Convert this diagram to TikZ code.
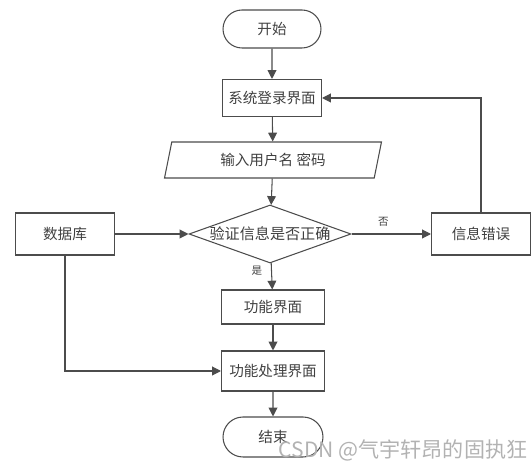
\documentclass[tikz,border=0pt]{standalone}
\usepackage{fontspec}
\setmainfont{Noto Sans CJK SC}
\usepackage{tikz}
\usetikzlibrary{arrows.meta}
\usetikzlibrary{shapes.geometric,shapes.misc}
\tikzset{
  every node/.style={font=\fontsize{8.3}{10}\selectfont, text=black!75},
  frame/.style={draw=black!70, line width=0.6pt, inner sep=0pt},
  procbox/.style={frame, rectangle, minimum width=1.98cm, minimum height=0.74cm},
  termbox/.style={frame, rounded rectangle, minimum width=1.96cm, minimum height=0.76cm},
  iobox/.style={frame, trapezium, trapezium left angle=62, trapezium right angle=118,
    trapezium stretches body, minimum width=4.34cm, minimum height=0.72cm},
  decision/.style={frame, diamond, aspect=2.8, minimum width=3.24cm, minimum height=1.16cm,
    font=\fontsize{8.6}{10}\selectfont},
  flow/.style={draw=black!70, line width=0.6pt, -{Triangle[length=5pt,width=5pt]}},
  tag/.style={font=\fontsize{6}{7}\selectfont, inner sep=1pt}
}

\begin{document}
\begin{tikzpicture}[x=0.02cm, y=-0.02cm]
    \useasboundingbox (0,0) rectangle (531,469);

                \node[termbox] (start) at (272,29) {开始};
                \node[procbox] (login) at (272,98) {系统登录界面};
                \node[iobox] (input) at (273,160) {输入用户名 密码};
                \node[decision] (check) at (270,234) {验证信息是否正确};
                \node[procbox, minimum height=0.84cm] (db) at (65,234) {数据库};
                \node[procbox, minimum height=0.84cm] (err) at (481,234) {信息错误};
                \node[procbox, minimum width=2.06cm, minimum height=0.68cm] (func) at (273,307) {功能界面};
                \node[procbox, minimum width=2.06cm, minimum height=0.8cm] (proc) at (273,371) {功能处理界面};
                \node[termbox, minimum width=2cm, minimum height=0.8cm] (stop) at (273,437) {结束};

                \draw[flow] (start) -- (login);
                \draw[flow] (login) -- (input);
                \draw[flow] (input) -- (check);
                \draw[flow] (db) -- (check);
                \draw[flow] (check) -- (err) node[tag, pos=0.4, above=3pt] {否};
                \draw[flow] (check) -- (func) node[tag, pos=0.3, left=4pt] {是};
                \draw[flow] (func) -- (proc);
                \draw[flow] (proc) -- (stop);
                \draw[flow] (err.north) |- (login.east);
                \draw[flow] (db.south) |- (proc.west);

                \node[font=\fontsize{12}{14}\selectfont, text=black!30] (mark) at (403,450) {CSDN @气宇轩昂的固执狂};

            \end{tikzpicture}
\end{document}
